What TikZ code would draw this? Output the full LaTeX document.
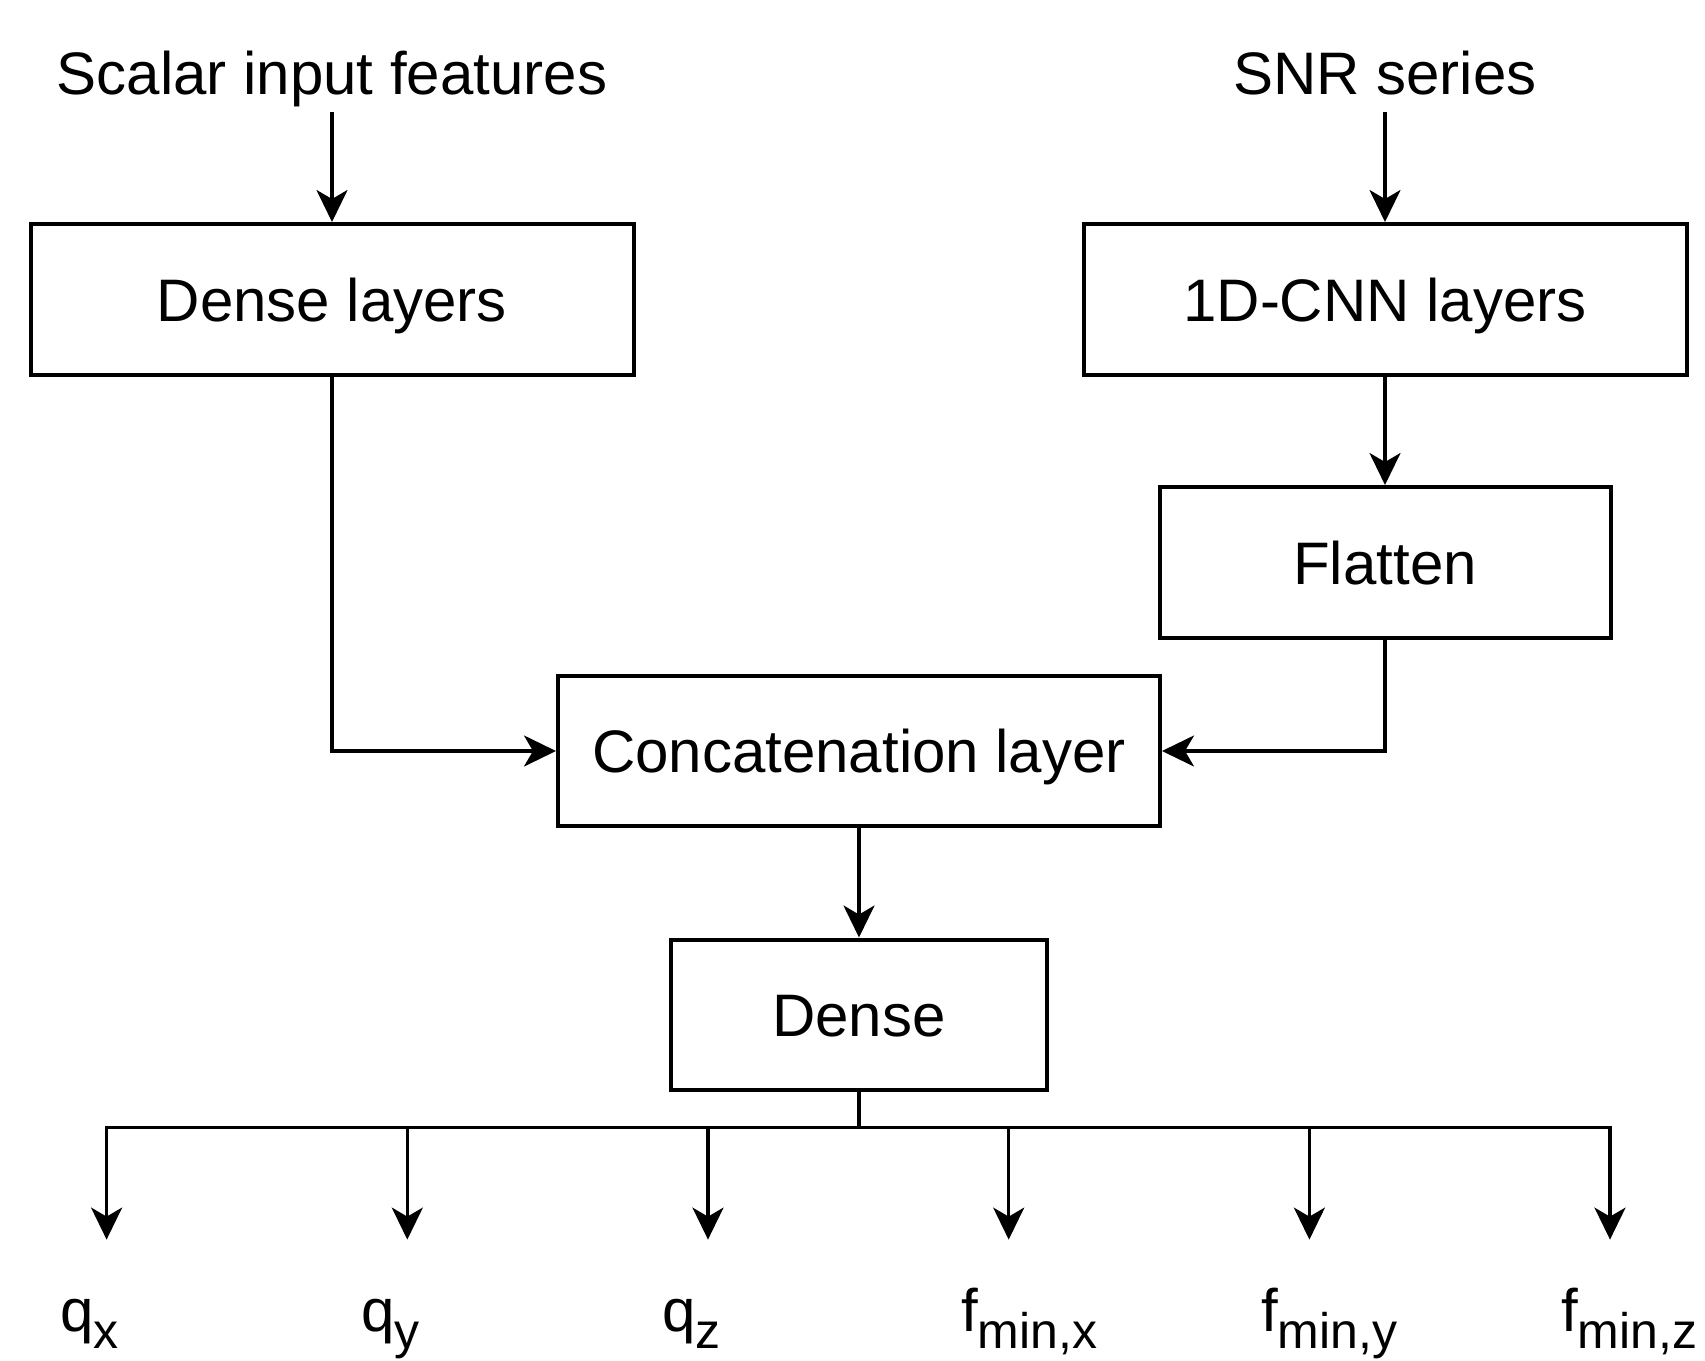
\documentclass[tikz,border=0pt]{standalone}
\usepackage{fontspec}
\setmainfont{Liberation Sans}
\usetikzlibrary{arrows.meta}
% output label with a lowered, smaller subscript
\newcommand\outlbl[2]{#1\raisebox{-17pt}{\fontsize{50}{60}\selectfont #2}}
\begin{document}
\begin{tikzpicture}[x=1pt,y=-1pt,
  big/.style={font=\fontsize{60}{72}\selectfont},
  block/.style={draw, line width=4pt, inner sep=0pt, text height=43pt,
    text depth=0pt, minimum height=151pt, big},
  caption/.style={big, inner sep=0pt, anchor=base},
  wire/.style={line width=3.3pt},
  flow/.style={wire, -{Stealth[length=32pt,width=31pt,inset=9pt]}},
  lbl/.style={big, inner sep=0pt, anchor=base west}]
\useasboundingbox (0,0) rectangle (1705,1360);

% inputs
\node[caption] (scalar) at (332,94) {Scalar input features};
\node[caption] (snr) at (1385,94) {SNR series};

% layers
\node[block, minimum width=603pt] (dl) at (332,299.5) {Dense layers};
\node[block, minimum width=603pt] (cnn) at (1385,299.5) {1D-CNN layers};
\node[block, minimum width=451pt] (flat) at (1385,562.5) {Flatten};
\node[block, minimum width=602pt, minimum height=150pt] (cat) at (859,751) {Concatenation layer};
\node[block, minimum width=376pt, minimum height=150pt] (dense) at (859,1014.5) {Dense};

% connections
\draw[flow] ([yshift=-18pt]scalar.base) -- (dl.north);
\draw[flow] ([yshift=-18pt]snr.base) -- (cnn.north);
\draw[flow] (cnn.south) -- (flat.north);
\draw[flow] (dl.south) |- (cat.west);
\draw[flow] (flat.south) |- (cat.east);
\draw[flow] (cat.south) -- (dense.north);

% output bus
\foreach \i/\x in {1/106.6,2/407.3,3/708,4/1008.7,5/1309.4,6/1610}{
  \coordinate (b\i) at (\x,1127.6);
  \coordinate (t\i) at (\x,1239.6);
}
\draw[flow] (dense.south) |- (b1) -- (t1);
\draw[flow] (dense.south) |- (b6) -- (t6);
\foreach \i in {2,3,4,5}{\draw[flow] (b\i) -- (t\i);}

% outputs
\node[lbl] (qx) at (60,1331) {\outlbl{q}{x}};
\node[lbl] (qy) at (361,1331) {\outlbl{q}{y}};
\node[lbl] (qz) at (662,1331) {\outlbl{q}{z}};
\node[lbl] (fx) at (961,1331) {\outlbl{f}{min,x}};
\node[lbl] (fy) at (1261,1331) {\outlbl{f}{min,y}};
\node[lbl] (fz) at (1561,1331) {\outlbl{f}{min,z}};
\end{tikzpicture}
\end{document}
